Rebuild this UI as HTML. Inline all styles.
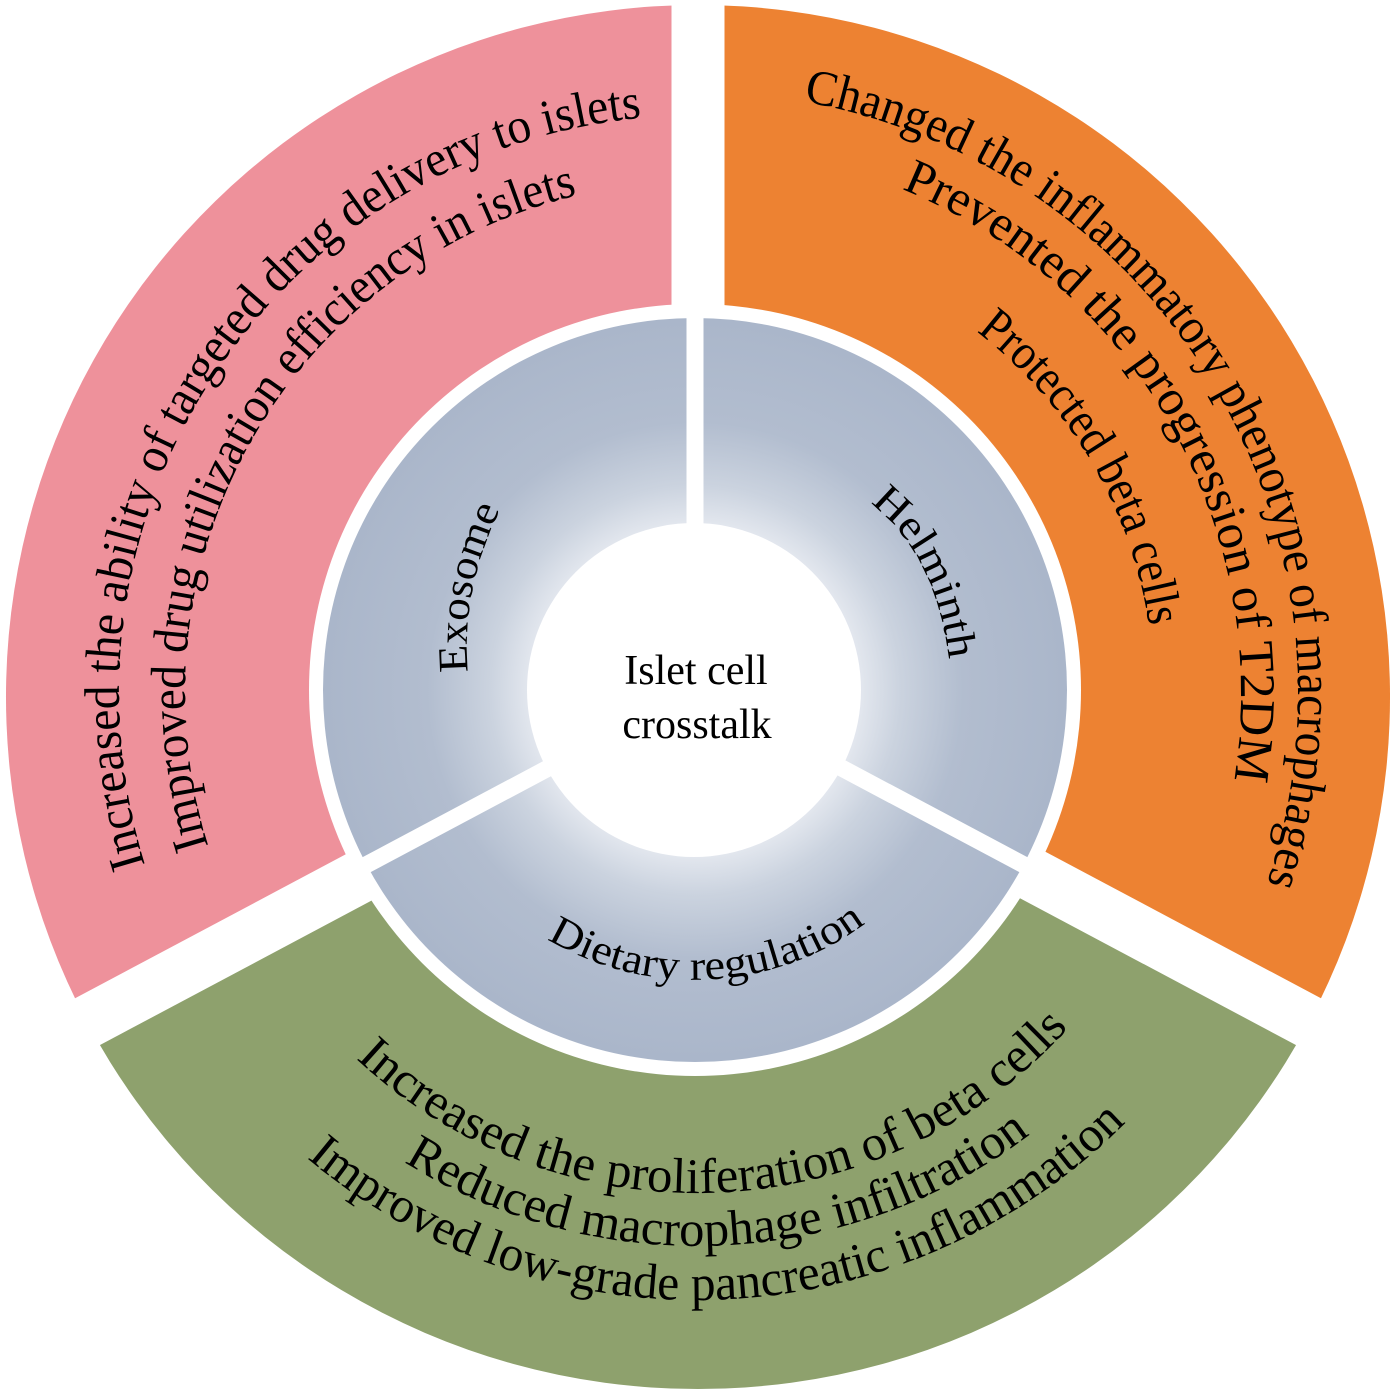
<!DOCTYPE html>
<html><head><meta charset="utf-8"><style>
html,body{margin:0;padding:0;background:#fff;}
svg{display:block;}
text{font-family:"Liberation Serif",serif;fill:#000;}
</style></head><body>
<svg width="1398" height="1393" viewBox="0 0 1398 1393" xmlns="http://www.w3.org/2000/svg">
<defs>
<radialGradient id="g" cx="695" cy="690" r="372" gradientUnits="userSpaceOnUse">
<stop offset="0.44" stop-color="#e4e8ef"/>
<stop offset="0.55" stop-color="#cbd3df"/>
<stop offset="0.72" stop-color="#b2bdcf"/>
<stop offset="1" stop-color="#aab6ca"/>
</radialGradient>
<path id="p1" d="M145.1,864.9 A578,578 0 0 1 641.6,117.7"/>
<path id="p2" d="M208.4,846.1 A512,512 0 0 1 577.5,195.1"/>
<path id="o1" d="M803.4,101.5 A601,601 0 0 1 1266.9,883.7"/>
<path id="o2" d="M901.7,189 A544,544 0 0 1 1234,780"/>
<path id="o3" d="M976.5,331.4 A457,457 0 0 1 1149.1,626.2"/>
<path id="gr1" d="M356,1058.7 A500,500 0 0 0 1068.6,1027.6"/>
<path id="gr2" d="M404,1161.9 A553,553 0 0 0 1029.8,1134.6"/>
<path id="gr3" d="M306.8,1158 A607,607 0 0 0 1126.2,1122.2"/>
<path id="ex" d="M468,672 Q460,585 506,498"/>
<path id="he" d="M870,503 Q938,555 950,668"/>
<path id="di" d="M547,939 A287,287 0 0 0 866,923"/>
</defs>
<path d="M698,697 L87,1021.9 A692,692 0 0 1 698,5 Z" fill="#ee919b"/>
<path d="M698,697 L698,5 A692,692 0 0 1 1309,1021.9 Z" fill="#ed8232"/>
<path d="M698,697 L1309,1021.9 A692,692 0 0 1 87,1021.9 Z" fill="#8ea16d"/>
<g stroke="#fff" stroke-width="53">
<line x1="698" y1="697" x2="698" y2="-103"/>
<line x1="698" y1="697" x2="1404.3" y2="1072.6"/>
<line x1="698" y1="697" x2="-8.3" y2="1072.6"/>
</g>
<circle cx="695" cy="690" r="386" fill="#fff"/>
<circle cx="695" cy="690" r="372" fill="url(#g)"/>
<g stroke="#fff" stroke-width="17">
<line x1="695" y1="690" x2="695" y2="300"/>
<line x1="695" y1="690" x2="1050" y2="878.8"/>
<line x1="695" y1="690" x2="340" y2="878.8"/>
</g>
<circle cx="694" cy="690" r="167" fill="#fff"/>

<g font-size="50">
<text><textPath href="#p1" textLength="1027" lengthAdjust="spacingAndGlyphs">Increased the ability of targeted drug delivery to islets</textPath></text>
<text><textPath href="#p2" textLength="839" lengthAdjust="spacingAndGlyphs">Improved drug utilization efficiency in islets</textPath></text>
<text><textPath href="#o1" textLength="1031" lengthAdjust="spacingAndGlyphs">Changed the inflammatory phenotype of macrophages</textPath></text>
<text><textPath href="#o2" textLength="732" lengthAdjust="spacingAndGlyphs">Prevented the progression of T2DM</textPath></text>
<text><textPath href="#o3" textLength="350" lengthAdjust="spacingAndGlyphs">Protected beta cells</textPath></text>
<text><textPath href="#gr1" textLength="794" lengthAdjust="spacingAndGlyphs">Increased the proliferation of beta cells</textPath></text>
<text><textPath href="#gr2" textLength="666" lengthAdjust="spacingAndGlyphs">Reduced macrophage infiltration</textPath></text>
<text><textPath href="#gr3" textLength="900" lengthAdjust="spacingAndGlyphs">Improved low-grade pancreatic inflammation</textPath></text>
</g>
<g font-size="42">
<text><textPath href="#ex" textLength="168" lengthAdjust="spacingAndGlyphs">Exosome</textPath></text>
<text><textPath href="#he" textLength="180" lengthAdjust="spacingAndGlyphs">Helminth</textPath></text>
<text><textPath href="#di" textLength="338" lengthAdjust="spacingAndGlyphs">Dietary regulation</textPath></text>
</g>
<text x="696" y="684" font-size="42" text-anchor="middle">Islet cell</text>
<text x="697" y="738" font-size="42" text-anchor="middle">crosstalk</text>
</svg>
</body></html>
